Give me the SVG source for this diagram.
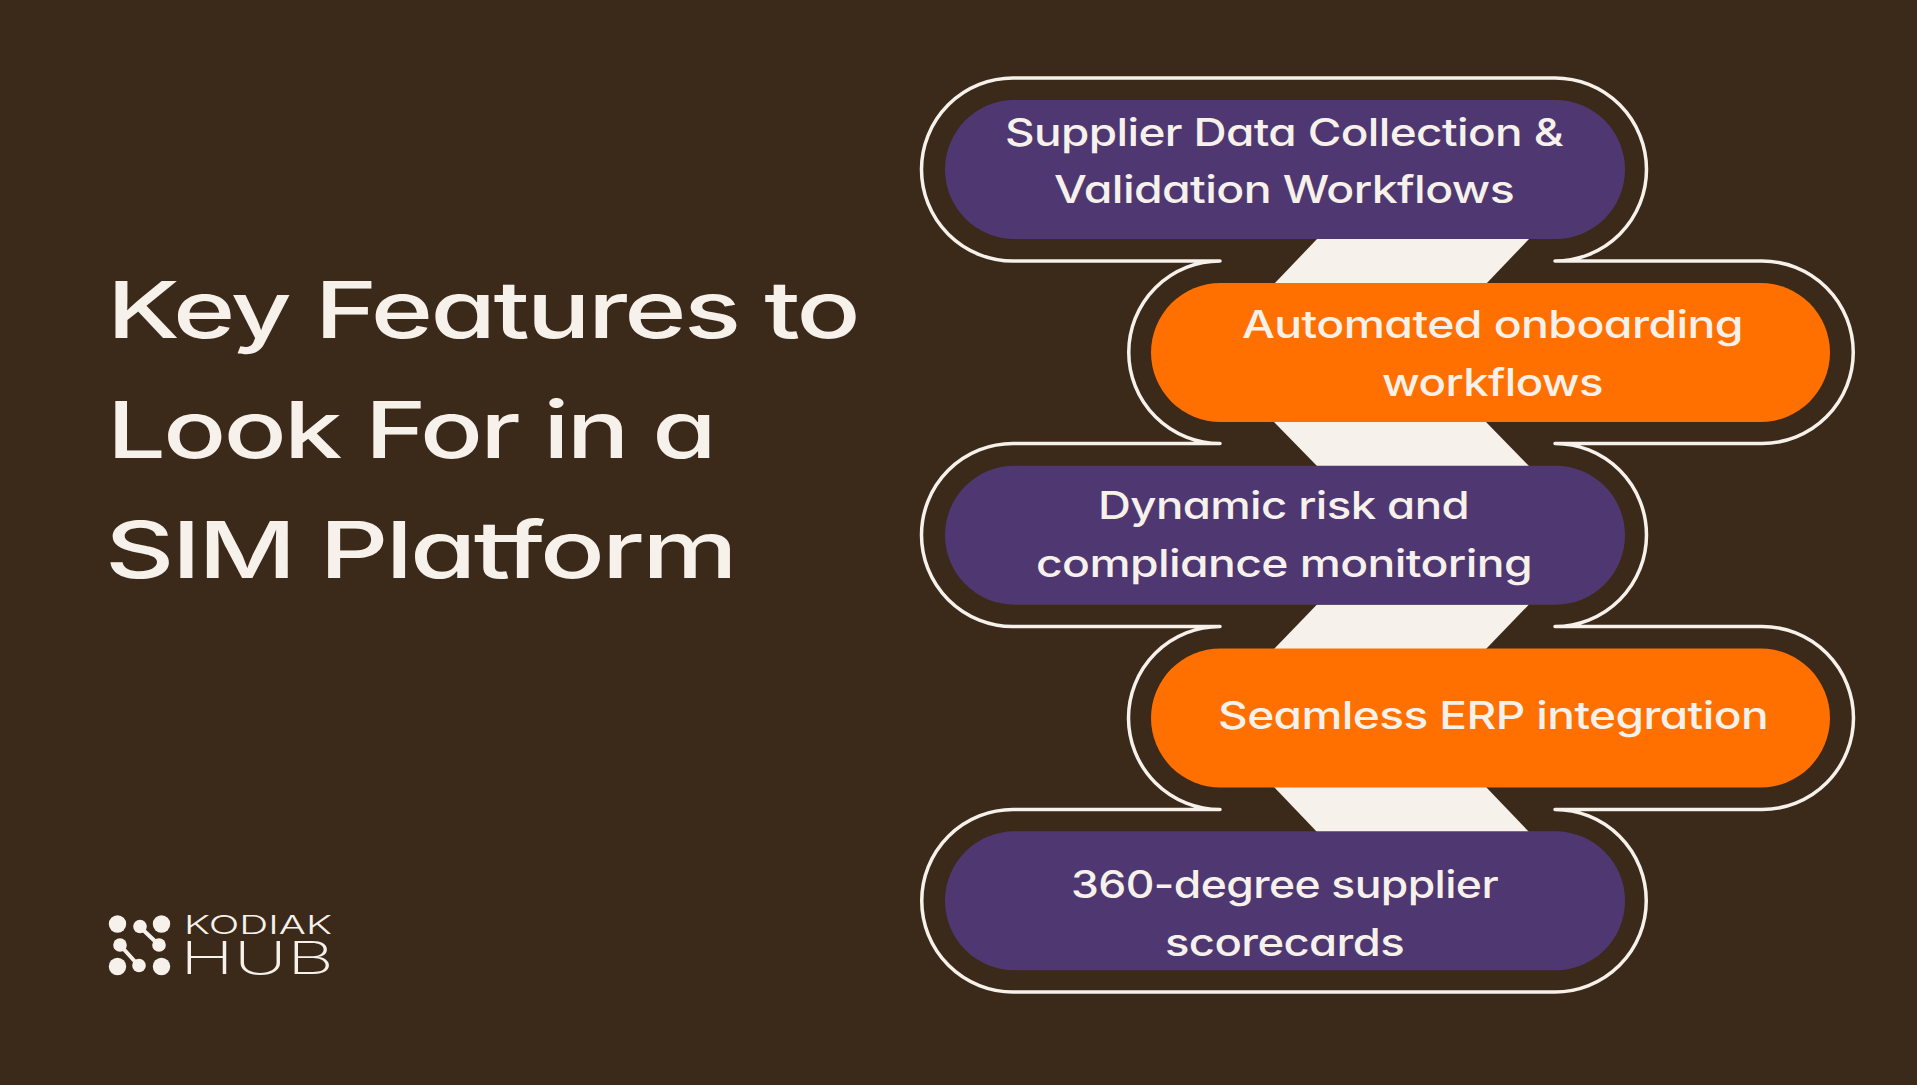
<svg xmlns="http://www.w3.org/2000/svg" width="1917" height="1085" viewBox="0 0 1917 1085">
<style>
.t{font-family:"Inter","Liberation Sans",sans-serif;fill:#F6F1EA;font-feature-settings:"cv11"}
.title{font-size:79px;font-weight:550;letter-spacing:-2px}
.lab{font-size:38px;font-weight:500;letter-spacing:-0.5px}
.purple{fill:#4F3871}
.orange{fill:#FF7000}
.band{fill:#F6F1EA}
.outline{fill:none;stroke:#F6F1EA;stroke-width:3.5;stroke-linejoin:round}
.dot{fill:#F6F1EA}
.link{stroke:#F6F1EA;stroke-width:4;fill:none}
</style>
<rect width="1917" height="1085" fill="#3B291A"/>
<g id="title">
<text class="t title" x="107" y="338" textLength="751" lengthAdjust="spacingAndGlyphs">Key Features to</text>
<text class="t title" x="107" y="458" textLength="607" lengthAdjust="spacingAndGlyphs">Look For in a</text>
<text class="t title" x="105" y="578" textLength="630" lengthAdjust="spacingAndGlyphs">SIM Platform</text>
</g>
<g id="connectors">
<path class="outline" d="M1013 78H1555A91.5 91.5 0 0 1 1555 261H1762A91.25 91.25 0 0 1 1762 443.5H1555A91.5 91.5 0 0 1 1555 626.5H1762A91.5 91.5 0 0 1 1762 809.5H1555A91.25 91.25 0 0 1 1555 992H1013A91.25 91.25 0 0 1 1013 809.5H1220A91.5 91.5 0 0 1 1220 626.5H1013A91.5 91.5 0 0 1 1013 443.5H1220A91.25 91.25 0 0 1 1220 261H1013A91.5 91.5 0 0 1 1013 78Z"/>
<polygon class="band" points="1317,239 1529,239 1486,284 1274,284"/>
<polygon class="band" points="1274,422 1486,422 1529,466 1317,466"/>
<polygon class="band" points="1317,604.5 1529,604.5 1486,649 1274,649"/>
<polygon class="band" points="1274,787 1486,787 1529,832 1317,832"/>
</g>
<g id="node-1">
<rect class="purple" x="945" y="100" width="680" height="139" rx="69.5"/>
<text class="t lab" x="1005" y="145.500" textLength="558" lengthAdjust="spacingAndGlyphs">Supplier Data Collection &amp;</text>
<text class="t lab" x="1054" y="203" textLength="460" lengthAdjust="spacingAndGlyphs">Validation Workflows</text>
</g>
<g id="node-2">
<rect class="orange" x="1151" y="283" width="679" height="139" rx="69.5"/>
<text class="t lab" x="1242" y="338" textLength="501" lengthAdjust="spacingAndGlyphs">Automated onboarding</text>
<text class="t lab" x="1382" y="396" textLength="221" lengthAdjust="spacingAndGlyphs">workflows</text>
</g>
<g id="node-3">
<rect class="purple" x="945" y="465.700" width="680" height="139" rx="69.500"/>
<text class="t lab" x="1098" y="519" textLength="371" lengthAdjust="spacingAndGlyphs">Dynamic risk and</text>
<text class="t lab" x="1036" y="576.500" textLength="496" lengthAdjust="spacingAndGlyphs">compliance monitoring</text>
</g>
<g id="node-4">
<rect class="orange" x="1151" y="648.500" width="679" height="139" rx="69.500"/>
<text class="t lab" x="1218" y="729" textLength="550" lengthAdjust="spacingAndGlyphs">Seamless ERP integration</text>
</g>
<g id="node-5">
<rect class="purple" x="945" y="831.300" width="680" height="139" rx="69.500"/>
<text class="t lab" x="1071" y="898" textLength="427" lengthAdjust="spacingAndGlyphs">360-degree supplier</text>
<text class="t lab" x="1165" y="956" textLength="239" lengthAdjust="spacingAndGlyphs">scorecards</text>
</g>
<g id="logo">
<path class="link" d="M140 927L159 945M120 945L139 966"/>
<circle class="dot" cx="117.500" cy="924" r="8.700"/>
<circle class="dot" cx="140" cy="926.500" r="6.800"/>
<circle class="dot" cx="161.500" cy="924" r="8.700"/>
<circle class="dot" cx="159" cy="945" r="6.800"/>
<circle class="dot" cx="120" cy="945" r="6.800"/>
<circle class="dot" cx="139" cy="965.500" r="6.800"/>
<circle class="dot" cx="117.500" cy="966.500" r="8.700"/>
<circle class="dot" cx="161.500" cy="966.500" r="8.700"/>
<text class="t" x="184" y="933.500" font-size="25" font-weight="300" textLength="148" lengthAdjust="spacingAndGlyphs">KODIAK</text>
<text class="t" x="180" y="974" font-size="45" font-weight="200" textLength="154" lengthAdjust="spacingAndGlyphs">HUB</text>
</g>
</svg>
